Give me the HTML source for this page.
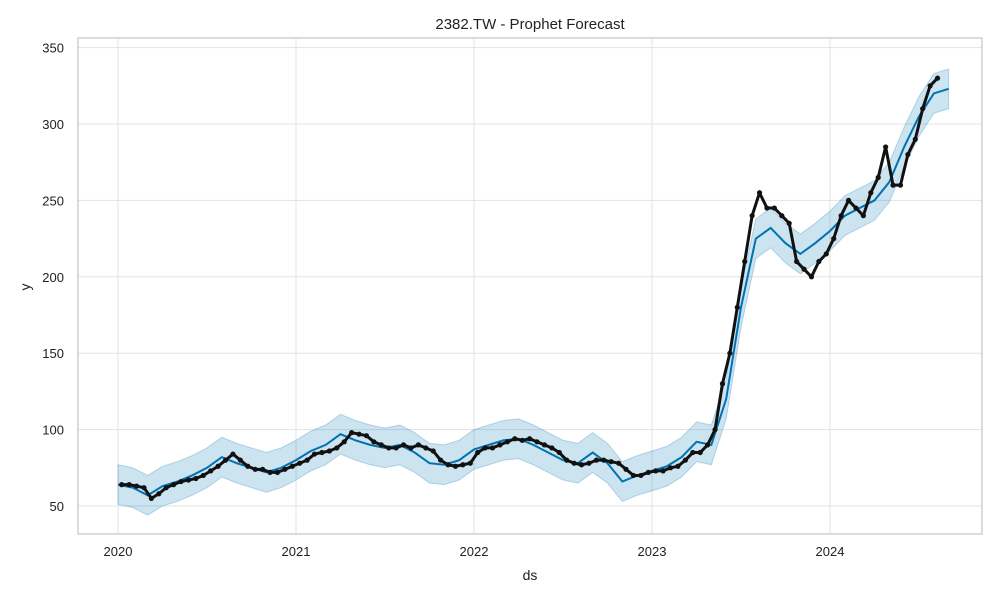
<!DOCTYPE html>
<html><head><meta charset="utf-8"><style>
body{margin:0;background:#fff;font-family:"Liberation Sans",sans-serif}
svg text{font-family:"Liberation Sans",sans-serif;fill:#222}
</style></head><body>
<svg id="c" width="1000" height="600" xmlns="http://www.w3.org/2000/svg">
<rect width="1000" height="600" fill="#fff"/>
<text x="530" y="29" font-size="15" text-anchor="middle">2382.TW - Prophet Forecast</text>
<text x="530" y="580" font-size="14" text-anchor="middle">ds</text>
<text x="30" y="287" font-size="14" text-anchor="middle" transform="rotate(-90 30 287)">y</text>
<g id="grid"></g><g id="band"></g><g id="marks"></g>
<rect x="78" y="38" width="904" height="496" fill="none" stroke="#c8c8c8" stroke-width="1.3"/>
</svg>
<script>
const xTicks=[2020,2021,2022,2023,2024];
const yTicks=[50,100,150,200,250,300,350];
// monthly forecast from Jan 2020
const yhat=[64,62,57,63,66,70,75,82,78,75,72,75,
80,86,90,97,93,90,88,90,85,78,77,80,
87,90,93,94,90,85,80,78,85,78,66,70,
73,76,82,92,90,120,180,225,232,222,215,222,
230,240,245,250,262,285,305,320,323];
const bandHalf=13;
// semi-monthly observed values from Jan 2020
const actual=[64,64,63,62,55,58,62,64,66,67,68,70,73,76,80,84,80,76,74,74,72,72,74,76,
78,80,84,85,86,88,92,98,97,96,92,90,88,88,90,88,90,88,86,80,77,76,77,78,
85,88,88,90,92,94,93,94,92,90,88,85,80,78,77,78,80,80,79,78,74,70,70,72,
73,73,75,76,80,85,85,90,100,130,150,180,210,240,255,245,245,240,235,210,205,200,210,215,
225,240,250,245,240,255,265,285,260,260,280,290,310,325,330];
const X=t=>118+(t-2020)*178;
const Y=v=>506-(v-50)*1.528;
const NS="http://www.w3.org/2000/svg";
function mk(tag,attrs,parent){const e=document.createElementNS(NS,tag);for(const k in attrs)e.setAttribute(k,attrs[k]);parent.appendChild(e);return e;}
const grid=document.getElementById('grid'),band=document.getElementById('band'),marks=document.getElementById('marks');
xTicks.forEach(t=>{
 const l=mk('line',{x1:X(t),x2:X(t),y1:38,y2:534,stroke:'#e3e3e3'},grid);
 
 
 const tx=mk('text',{x:X(t),y:556,'font-size':13,'text-anchor':'middle'},grid);tx.textContent=t;
 
 
});
yTicks.forEach(v=>{
 const l=mk('line',{x1:78,x2:982,y1:Y(v),y2:Y(v),stroke:'#e3e3e3'},grid);
 
 
 const tx=mk('text',{x:64,y:Y(v)+5,'font-size':13,'text-anchor':'end'},grid);tx.textContent=v;
 
 
});
const mx=i=>X(2020+i/12);
let up='',lo='';
yhat.forEach((v,i)=>{up+=(i?'L':'M')+mx(i)+','+Y(v+bandHalf);});
for(let i=yhat.length-1;i>=0;i--)lo+='L'+mx(i)+','+Y(yhat[i]-bandHalf);
const b=mk('path',{d:up+lo+'Z',fill:'#0072B2','fill-opacity':0.2,stroke:'#0072B2','stroke-opacity':0.25},band);


const ax=i=>X(2020+(i*0.5+0.25)/12);
let ad='';actual.forEach((v,i)=>{ad+=(i?'L':'M')+ax(i)+','+Y(v);});
let fd='';yhat.forEach((v,i)=>{fd+=(i?'L':'M')+mx(i)+','+Y(v);});
const fl=mk('path',{d:fd,fill:'none',stroke:'#0072B2','stroke-width':2},marks);


const al=mk('path',{d:ad,fill:'none',stroke:'#111','stroke-width':3,'stroke-linejoin':'round'},marks);


actual.forEach((v,i)=>{
 const c=mk('circle',{cx:ax(i),cy:Y(v),r:2.6,fill:'#111'},marks);
 
 
});
</script>
</body></html>
